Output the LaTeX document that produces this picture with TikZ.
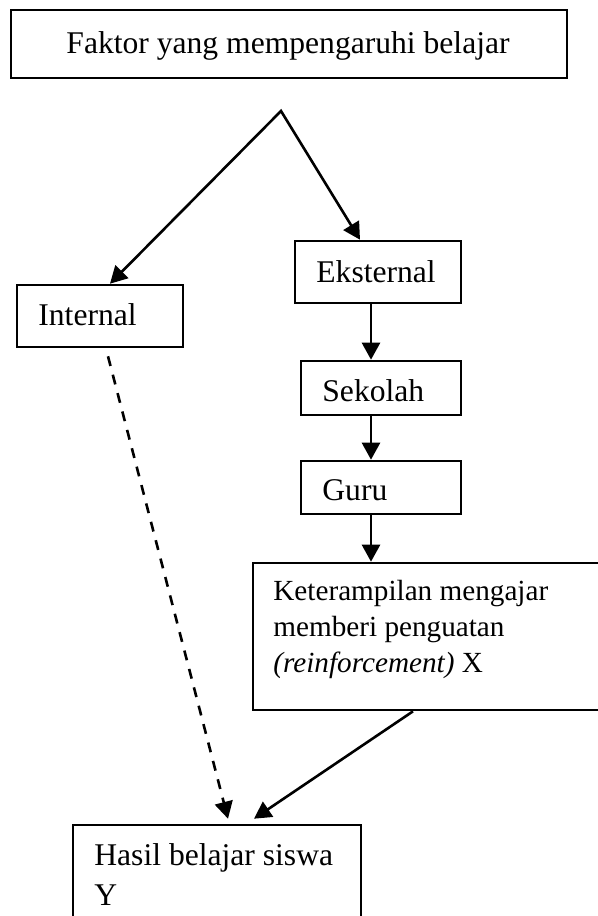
\documentclass[tikz,border=0pt]{standalone}
\usepackage{fontspec}
\setmainfont{Liberation Serif}
\usetikzlibrary{arrows.meta}
\begin{document}
\begin{tikzpicture}[x=0.5pt,y=-0.5pt,
  box/.style={draw,line width=1.3pt,rectangle,inner sep=0pt},
  txt/.style={anchor=base west,inner sep=0pt,font=\fontsize{15.8}{19}\selectfont},
  smalltxt/.style={anchor=base west,inner sep=0pt,font=\fontsize{14.6}{18}\selectfont},
  arr/.style={line width=1.3pt,-{Triangle[length=8.5pt,width=9pt]}},
  dasharr/.style={line width=1.3pt,dash pattern=on 5pt off 4.5pt,-{Triangle[length=8.5pt,width=9pt]}}]
\useasboundingbox (0,0) rectangle (598,916);
% boxes
\node[box,minimum width=278pt,minimum height=34pt] (top) at (289,44) {};
\node[box,minimum width=83pt,minimum height=31pt] (int) at (100,316) {};
\node[box,minimum width=83pt,minimum height=31pt] (ext) at (378,272) {};
\node[box,minimum width=80pt,minimum height=27pt] (sek) at (381,388) {};
\node[box,minimum width=80pt,minimum height=26.5pt] (guru) at (381,487.5) {};
\node[box,minimum width=174.5pt,minimum height=73.5pt] (ket) at (427.5,636.5) {};
\node[box,minimum width=144pt,minimum height=50pt] (hasil) at (217,875) {};
% texts
\node[txt,anchor=base] (ttop) at (288,53) {Faktor yang mempengaruhi belajar};
\node[txt] (tint) at (38,325) {Internal};
\node[txt] (text) at (316,282) {Eksternal};
\node[txt] (tsek) at (322,401) {Sekolah};
\node[txt] (tguru) at (322,500) {Guru};
\node[smalltxt] (tket1) at (273,600) {Keterampilan mengajar};
\node[smalltxt] (tket2) at (273,636) {memberi penguatan};
\node[smalltxt] (tket3) at (273,672) {\textit{(reinforcement)} X};
\node[txt] (thasil1) at (94,865) {Hasil belajar siswa};
\node[txt] (thasil2) at (94,905) {Y};
% connectors
\coordinate (apex) at (281,111);
\coordinate (colx) at (371,0);
\draw[line width=1.3pt,line join=miter,{Triangle[length=8.5pt,width=9pt]}-{Triangle[length=8.5pt,width=9pt]}]
  ([xshift=5pt]int.north) -- (apex) -- ([xshift=-9pt]ext.north);
\draw[arr] (ext.south -| colx) -- (sek.north -| colx);
\draw[arr] (sek.south -| colx) -- (guru.north -| colx);
\draw[arr] (guru.south -| colx) -- (ket.north -| colx);
\draw[dasharr] ([xshift=4pt,yshift=-4pt]int.south) -- ([xshift=5.5pt,yshift=2.5pt]hasil.north);
\draw[arr] ([xshift=-7.25pt]ket.south) -- ([xshift=18.5pt,yshift=2.5pt]hasil.north);
\end{tikzpicture}
\end{document}
